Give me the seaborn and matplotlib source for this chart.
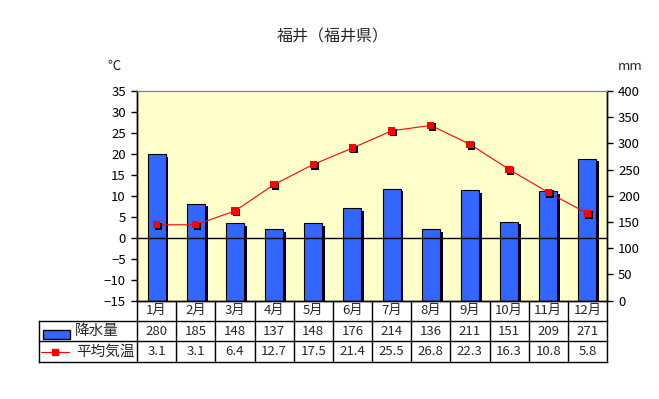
import numpy as np
import pandas as pd
import matplotlib.pyplot as plt
import matplotlib.patheffects as pe
from matplotlib.patches import Rectangle
import seaborn as sns

plt.switch_backend("Agg")

# --- data (福井) ---
months = ["1月", "2月", "3月", "4月", "5月", "6月",
          "7月", "8月", "9月", "10月", "11月", "12月"]
precip = [280, 185, 148, 137, 148, 176, 214, 136, 211, 151, 209, 271]
temp = [3.1, 3.1, 6.4, 12.7, 17.5, 21.4, 25.5, 26.8, 22.3, 16.3, 10.8, 5.8]
temp_ticks = list(range(-15, 36, 5))
precip_ticks = list(range(0, 401, 50))

BAR_COLOR = "#3366ff"
BG_COLOR = "#ffffcc"
W, H = 659, 399

sns.set_style("white")
plt.rcParams["font.family"] = ["Noto Sans CJK JP", "DejaVu Sans"]


def rect(l, t, r, b):
    return [l / W, 1 - b / H, (r - l) / W, (b - t) / H]


df = pd.DataFrame({"month": months, "pos": np.arange(len(months)),
                   "precip": precip, "temp": temp})

fig = plt.figure(figsize=(W / 100, H / 100), dpi=100)

# 降水量 on the main axes (right scale), 気温 on the twin (left scale)
ax_p = fig.add_axes(rect(137, 91, 607, 300.7))
ax_p.set_facecolor(BG_COLOR)
sns.barplot(data=df, x="month", y="precip", ax=ax_p, color=BAR_COLOR,
            saturation=1, edgecolor="black", linewidth=0.8, width=0.46)
shadow = [pe.SimplePatchShadow(offset=(2.0, -2.0), shadow_rgbFace="black", alpha=1),
          pe.Normal()]
for p in ax_p.patches:
    p.set_path_effects(shadow)

ax_t = ax_p.twinx()
ax_t.axhline(0, color="black", lw=1, zorder=1)
sns.lineplot(data=df, x="pos", y="temp", ax=ax_t, color="red", lw=0.8,
             errorbar=None, zorder=3)
sns.scatterplot(data=df, x="pos", y="temp", ax=ax_t, color="red",
                marker="s", s=28, linewidth=0, zorder=4)
ax_t.collections[-1].set_path_effects(
    [pe.SimplePatchShadow(offset=(1.2, -1.2), shadow_rgbFace="black", alpha=1),
     pe.Normal()])

for a in (ax_p, ax_t):
    a.set_xlim(-0.5, 11.5)
    a.set_xlabel("")
    a.set_ylabel("")
    a.tick_params(bottom=False, labelbottom=False)
    for s in ("left", "right", "bottom"):
        a.spines[s].set_color("black")
        a.spines[s].set_linewidth(1)
    a.spines["top"].set_color("#808080")

ax_t.set_ylim(-15, 35)
ax_t.set_yticks(temp_ticks)
ax_t.yaxis.tick_left()
ax_t.tick_params(axis="y", direction="out", length=4, width=1, pad=4,
                 labelsize=9.5, colors="black")

ax_p.set_ylim(0, 400)
ax_p.set_yticks(precip_ticks)
ax_p.yaxis.tick_right()
ax_p.tick_params(axis="y", direction="out", length=4, width=1, pad=4,
                 labelsize=9.5, colors="black")

fig.text(333 / W, 1 - 37 / H, "福井（福井県）", ha="center", va="center", fontsize=11.5)
fig.text(114 / W, 1 - 66 / H, "℃", ha="center", va="center", fontsize=9.5)
fig.text(630 / W, 1 - 66 / H, "mm", ha="center", va="center", fontsize=9.5)

# --- data table under the chart ---
ax_tab = fig.add_axes(rect(39, 300.7, 607, 361.7))
ax_tab.axis("off")
col_w = (607 - 137) / 12
L = (137 - 39) / col_w
x0 = -0.5 - L
ax_tab.set_xlim(x0, 11.5)
ax_tab.set_ylim(0, 3)


def px2x(px):
    return x0 + (px - 39) / col_w


def py2y(py):
    return 3 - (py - 300.7) / ((361.7 - 300.7) / 3)


kw = dict(color="black", lw=1, clip_on=False, solid_capstyle="projecting")
for yy in (0, 1, 2):
    ax_tab.plot([x0, 11.5], [yy, yy], **kw)
ax_tab.plot([x0, x0], [0, 2], **kw)
for i in range(13):
    ax_tab.plot([i - 0.5, i - 0.5], [0, 3], **kw)

for i, m in enumerate(months):
    ax_tab.text(i, 2.5, m, ha="center", va="center", fontsize=9.5)
    ax_tab.text(i, 1.5, str(precip[i]), ha="center", va="center", fontsize=9.5)
    ax_tab.text(i, 0.5, f"{temp[i]:.1f}", ha="center", va="center", fontsize=9.5)

# legend cells
ax_tab.add_patch(Rectangle((px2x(43), py2y(339)), px2x(70) - px2x(43),
                           py2y(330) - py2y(339), facecolor=BAR_COLOR,
                           edgecolor="black", lw=1, clip_on=False))
ax_tab.text(px2x(75), 1.5, "降水量", ha="left", va="center", fontsize=10.5)
ax_tab.plot([px2x(41), px2x(69)], [0.5, 0.5], color="red", lw=0.8, clip_on=False)
ax_tab.plot([px2x(55)], [0.5], color="red", marker="s", markersize=5, clip_on=False)
ax_tab.text(px2x(76), 0.5, "平均気温", ha="left", va="center", fontsize=10.5)

fig.savefig("out.png", dpi=100)
plt.close(fig)
